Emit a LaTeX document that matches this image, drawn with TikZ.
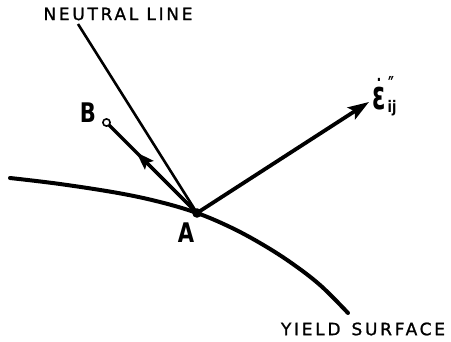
\documentclass[tikz,border=0pt]{standalone}
\usepackage{fontspec}
\usetikzlibrary{arrows.meta,calc}
\newfontfamily\lettering[LetterSpace=16,FakeBold=1.2]{DejaVu Sans}
\newfontfamily\bigletter[FakeStretch=0.78]{DejaVu Sans Bold}
\newfontfamily\epsfont[FakeStretch=0.6]{DejaVu Sans Bold}
\newfontfamily\subfont[FakeStretch=0.8]{DejaVu Sans Bold}
\tikzset{
  label text/.style={inner sep=0pt, font=\lettering\fontsize{17}{18}\selectfont},
  point label/.style={inner sep=0pt, font=\bigletter\fontsize{27}{28}\selectfont},
  thinline/.style={line width=2.6pt},
  curveline/.style={line width=4pt, line cap=round},
  vecline/.style={line width=3.2pt},
  eps part/.style={inner sep=0pt},
}
\begin{document}
\begin{tikzpicture}[x=1pt,y=-1pt]
\useasboundingbox (0,0) rectangle (451,342);
% points
\coordinate (A) at (197,213);
\coordinate (N) at (78,24);
\coordinate (B) at (106.5,122.5);
\coordinate (E) at (369,102);
% yield surface
\draw[curveline] plot[smooth, tension=0.6] coordinates {(10,178) (60,184) (118,193) (160,202) (197,213) (230,227) (260,243) (290,262) (320,285) (348,313)};
% neutral line
\draw[thinline] (A) -- (N);
% arrow to B
\draw[vecline] (A) -- (B);
\draw[vecline, -{Stealth[length=18pt,width=12pt,inset=3pt]}] (A) -- ($(A)!0.67!(B)$);
\filldraw[fill=white, line width=1.6pt] (B) circle (3.6pt);
% epsilon arrow
\draw[line width=3.8pt, -{Stealth[length=21pt,width=14pt,inset=4pt]}] (A) -- (E);
% point A
\fill (A) circle (4.8pt);
% labels
\node[label text] (nl) at (118,14) {NEUTRAL LINE};
\node[label text] (ys) at (363,329) {YIELD\, SURFACE};
\node[point label] (lb) at (88,113) {B};
\node[point label] (la) at (186,233) {A};
\node[eps part, font=\epsfont\fontsize{40}{40}\selectfont] (le) at (379.5,98.5) {ε};
\node[eps part, font=\epsfont\fontsize{26}{26}\selectfont] (ledot) at (379,88) {˙};
\node[eps part, font=\epsfont\fontsize{22}{22}\selectfont] (lepr) at (391,84) {″};
\node[eps part, font=\subfont\fontsize{16}{16}\selectfont] (lesub) at (392,108) {ij};
\end{tikzpicture}
\end{document}
